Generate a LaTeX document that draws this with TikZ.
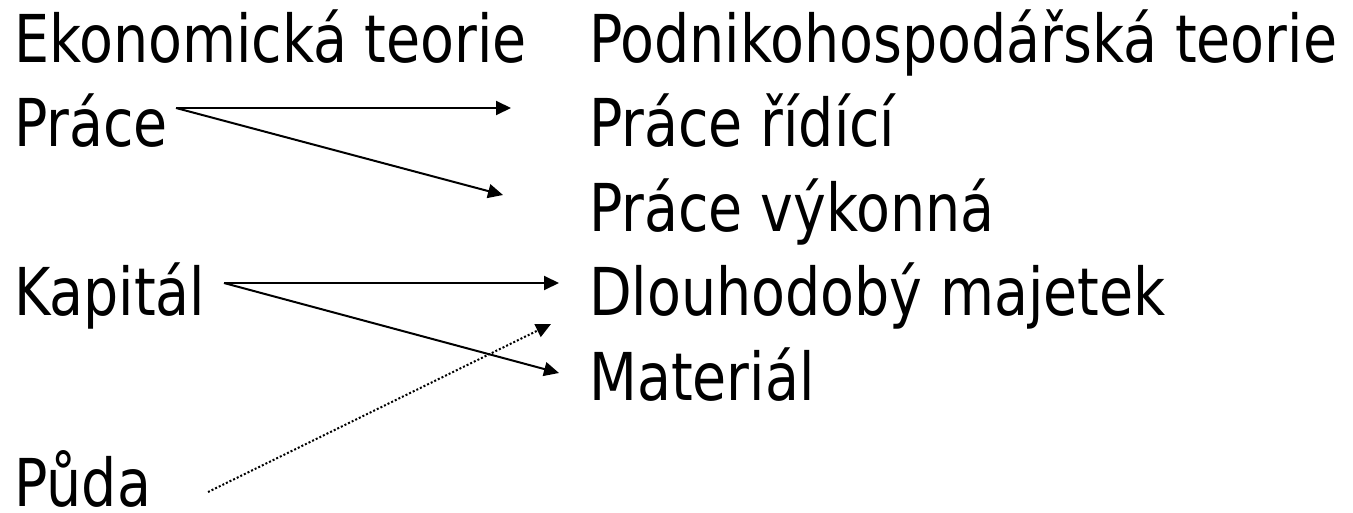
\documentclass[tikz,border=0pt]{standalone}
\usepackage{fontspec}
\setmainfont[FakeStretch=0.84]{DejaVu Sans}
\usetikzlibrary{arrows.meta}
\begin{document}
\begin{tikzpicture}[x=1pt,y=-1pt,
  lbl/.style={anchor=base west,inner sep=0pt,font=\fontsize{66}{70}\selectfont},
  conn/.style={line width=2pt,-{Triangle[length=15pt,width=14pt]}},
  dotconn/.style={line width=2pt,dash pattern=on 2pt off 2pt,-{Triangle[length=15pt,width=14pt]}}]
\useasboundingbox (0,0) rectangle (1353,513);
% left column
\node[lbl] (ek) at (14,63) {Ekonomická teorie};
\node[lbl] (pr) at (14,147) {Práce};
\node[lbl] (ka) at (14,316) {Kapitál};
\node[lbl] (pu) at (14,506) {Půda};
% right column
\node[lbl] (po) at (589,63) {Podnikohospodářská teorie};
\node[lbl] (ri) at (589,147) {Práce řídící};
\node[lbl] (vy) at (589,232) {Práce výkonná};
\node[lbl] (dl) at (589,316) {Dlouhodobý majetek};
\node[lbl] (ma) at (589,400) {Materiál};
% connector ends
\coordinate (prS) at (176,108);
\coordinate (riE) at (511,108);
\coordinate (vyE) at (503,195);
\coordinate (kaS) at (224,283);
\coordinate (dlE) at (559,283);
\coordinate (maE) at (559,373);
\coordinate (puS) at (208,492);
\coordinate (dlE2) at (551,324);
\draw[conn] (prS) -- (riE);
\draw[conn] (prS) -- (vyE);
\draw[conn] (kaS) -- (dlE);
\draw[conn] (kaS) -- (maE);
\draw[dotconn] (puS) -- (dlE2);
\end{tikzpicture}
\end{document}
